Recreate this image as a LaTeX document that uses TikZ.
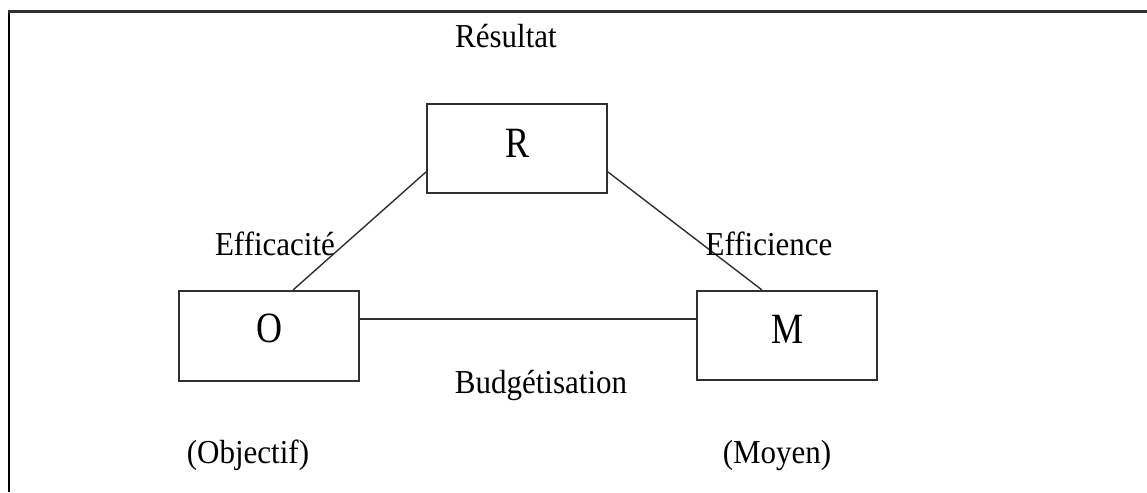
\documentclass[tikz,border=0pt]{standalone}
\usepackage{fontspec}
\setmainfont{Liberation Serif}
\usetikzlibrary{calc}
\definecolor{edge}{HTML}{303030}
% tall, narrow lettering
\newcommand{\tallA}[1]{\scalebox{1}[1.2]{#1}}
\newcommand{\tallB}[1]{\scalebox{1}[1.08]{#1}}
\tikzset{
  box/.style={draw=edge, line width=2pt, minimum width=180pt, minimum height=89pt,
              inner sep=0pt, text height=29pt, font=\fontsize{36}{36}\selectfont},
  lbl/.style={anchor=base, inner sep=0pt, font=\fontsize{31}{31}\selectfont},
  link/.style={draw=edge, line width=1.4pt}
}
\begin{document}
\begin{tikzpicture}[x=1pt, y=-1pt]
  \useasboundingbox (0,0) rectangle (1147,492);
  % open frame: left and top sides only
  \draw[draw=black, line width=2pt] (9,492) -- (9,12);
  \draw[draw=edge, line width=3pt] (8,12) -- (1147,12);

  % the three boxes
  \node[box, text depth=12pt] (R) at (517,148.5) {\tallA{R}};
  \node[box, minimum height=90pt, text depth=17pt] (O) at (269,336) {\tallA{O}};
  \node[box, text depth=14pt] (M) at (787,335.5) {\tallA{M}};

  % connectors
  \draw[link] ([yshift=-23.5pt]R.west) -- ([xshift=24pt]O.north);
  \draw[link] ([yshift=-23.5pt]R.east) -- ([xshift=-25pt]M.north);
  \draw[link] ([yshift=17pt]O.east) -- ([yshift=16.5pt]M.west);

  % labels
  \node[lbl] (lres) at (506,48) {\tallB{Résultat}};
  \node[lbl] (leffa) at (275,255) {\tallB{Efficacité}};
  \node[lbl] (leffi) at (769,255) {\tallB{Efficience}};
  \node[lbl] (lbud) at (541,393) {\tallB{Budgétisation}};
  \node[lbl] (lobj) at (248,463) {\tallB{(Objectif)}};
  \node[lbl] (lmoy) at (777,463) {\tallB{(Moyen)}};
\end{tikzpicture}
\end{document}
